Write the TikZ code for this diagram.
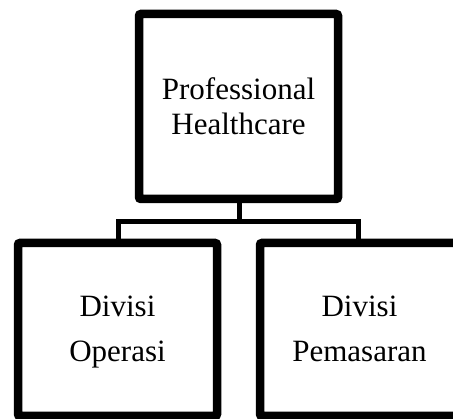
\documentclass[tikz,border=0pt]{standalone}
\usepackage{fontspec}
\setmainfont{Liberation Serif}
\begin{document}
\begin{tikzpicture}[x=1pt,y=1pt,
  orgbox/.style={draw=black, line width=8.5pt, rounded corners=2pt, fill=white,
    inner sep=0pt, minimum width=199pt},
  txt/.style={anchor=base, inner sep=0pt, font=\fontsize{31}{36}\selectfont},
  link/.style={draw=black, line width=5pt}]
\useasboundingbox (0,0) rectangle (453,419);
\node[orgbox, minimum height=185pt] (top) at (238.5,312.5) {};
\node[orgbox, minimum height=173pt] (ops) at (117.5,89.5) {};
\node[orgbox, minimum height=173pt] (mkt) at (359.5,89.5) {};
\node[txt] (t1) at (238.5,319) {Professional};
\node[txt] (t2) at (238.5,284) {Healthcare};
\node[txt] (o1) at (117.5,102) {Divisi};
\node[txt] (o2) at (117.5,57) {Operasi};
\node[txt] (m1) at (359.5,102) {Divisi};
\node[txt] (m2) at (359.5,57) {Pemasaran};
\coordinate (j) at (239,197.5);
\coordinate (jl) at (118,197.5);
\coordinate (jr) at (358.5,197.5);
\draw[link] (top.south -| j) -- (j);
\draw[link] (ops.north -| jl) -- (jl) -- (jr) -- (mkt.north -| jr);
\end{tikzpicture}
\end{document}
